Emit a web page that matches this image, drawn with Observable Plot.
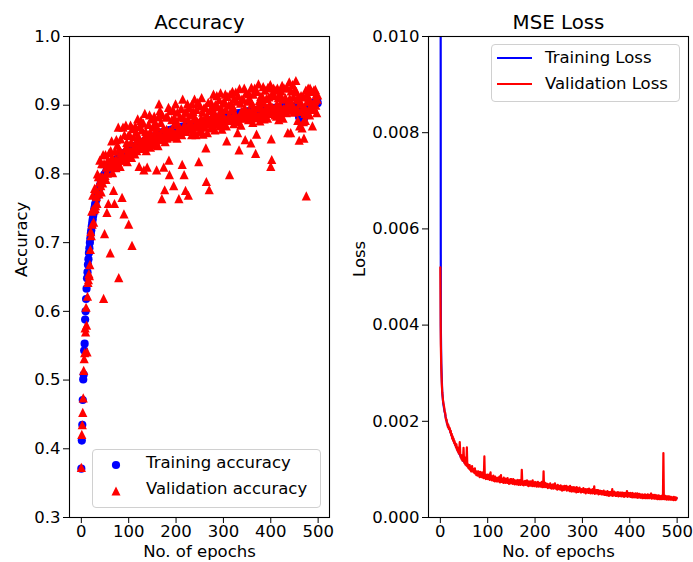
<!DOCTYPE html>
<html>
<head>
<meta charset="utf-8">
<script src="https://cdn.jsdelivr.net/npm/d3@7"></script>
<script src="https://cdn.jsdelivr.net/npm/@observablehq/plot@0.6"></script>
<style>
  html, body { margin: 0; padding: 0; background: #fff; }
  #page { position: relative; width: 693px; height: 562px; font-family: "DejaVu Sans", sans-serif; overflow: hidden; }
  .panel { position: absolute; top: 0; }
  .leg { position: absolute; box-sizing: border-box; border: 1px solid #d0d0d0; border-radius: 4px; background: rgba(255,255,255,0.8); }
  .lt { position: absolute; font-size: 16.5px; line-height: 20px; color: #000; white-space: nowrap; }
  .ls { position: absolute; }
</style>
</head>
<body>
<div id="page">
  <div id="left" class="panel" style="left:0px"></div>
  <div id="right" class="panel" style="left:340px"></div>

  <div class="leg" style="left:92px;top:449px;width:229px;height:59px"></div>
  <svg class="ls" style="left:110px;top:459px" width="12" height="12"><circle cx="6" cy="6" r="4.1" fill="blue"/></svg>
  <span class="lt" style="left:146px;top:453px">Training accuracy</span>
  <svg class="ls" style="left:110px;top:485px" width="12" height="12"><path d="M6,1.5 L10.5,10.5 L1.5,10.5 Z" fill="red"/></svg>
  <span class="lt" style="left:146px;top:479px">Validation accuracy</span>

  <div class="leg" style="left:491px;top:44px;width:189px;height:58px"></div>
  <svg class="ls" style="left:497px;top:52px" width="36" height="12"><line x1="0" y1="6" x2="35" y2="6" stroke="blue" stroke-width="2"/></svg>
  <span class="lt" style="left:545px;top:48px">Training Loss</span>
  <svg class="ls" style="left:497px;top:78px" width="36" height="12"><line x1="0" y1="6" x2="35" y2="6" stroke="red" stroke-width="2"/></svg>
  <span class="lt" style="left:545px;top:74px">Validation Loss</span>
</div>
<script>
// ---------------- data (one value per epoch 0..499) ----------------
const trainAcc = [
.371,.412,.435,.471,.501,.508,.543,.553,.588,.600,
.618,.633,.648,.657,.668,.676,.685,.692,.700,.706,
.713,.718,.724,.729,.734,.739,.743,.747,.751,.755,
.758,.762,.765,.768,.770,.773,.776,.778,.780,.782,
.784,.786,.788,.790,.791,.793,.795,.796,.797,.799,
.800,.801,.802,.804,.805,.806,.806,.807,.808,.809,
.810,.811,.812,.813,.813,.814,.815,.816,.816,.817,
.818,.818,.819,.820,.820,.821,.822,.822,.823,.823,
.824,.825,.825,.826,.826,.827,.827,.828,.828,.829,
.829,.830,.830,.831,.831,.832,.832,.833,.833,.834,
.834,.835,.835,.836,.836,.836,.837,.837,.838,.838,
.839,.839,.839,.840,.840,.841,.841,.841,.842,.842,
.843,.843,.843,.844,.844,.844,.845,.845,.846,.846,
.846,.847,.847,.847,.848,.848,.848,.849,.849,.849,
.850,.850,.850,.851,.851,.851,.852,.852,.852,.853,
.853,.853,.854,.854,.854,.855,.855,.855,.855,.856,
.856,.857,.855,.858,.857,.856,.859,.858,.857,.860,
.858,.859,.861,.860,.858,.861,.860,.862,.859,.861,
.862,.860,.861,.863,.862,.860,.863,.862,.864,.861,
.863,.864,.862,.865,.863,.864,.862,.865,.866,.864,
.865,.863,.866,.865,.867,.864,.866,.868,.865,.867,
.866,.868,.867,.865,.869,.867,.868,.866,.869,.868,
.867,.870,.868,.869,.867,.870,.869,.871,.868,.870,
.869,.871,.870,.868,.872,.870,.871,.869,.872,.871,
.870,.873,.871,.869,.872,.874,.871,.873,.872,.870,
.874,.872,.873,.875,.871,.874,.876,.873,.875,.874,
.872,.876,.875,.874,.877,.875,.873,.877,.876,.878,
.875,.877,.876,.878,.874,.879,.877,.876,.879,.878,
.877,.880,.878,.876,.880,.879,.881,.878,.880,.882,
.879,.881,.880,.883,.878,.882,.881,.880,.883,.881,
.882,.880,.884,.882,.881,.884,.883,.880,.885,.883,
.882,.885,.884,.881,.886,.884,.883,.886,.885,.882,
.886,.884,.887,.885,.883,.887,.886,.884,.888,.885,
.882,.887,.886,.888,.884,.887,.889,.886,.888,.887,
.885,.889,.887,.888,.890,.886,.889,.888,.890,.887,
.889,.891,.888,.890,.887,.891,.889,.890,.892,.888,
.890,.892,.889,.891,.893,.889,.892,.890,.893,.891,
.889,.893,.891,.892,.894,.890,.893,.892,.894,.891,
.893,.894,.891,.894,.892,.894,.893,.891,.894,.893,
.892,.895,.893,.892,.895,.893,.892,.895,.894,.892,
.894,.893,.895,.894,.892,.895,.894,.893,.896,.894,
.892,.895,.894,.896,.893,.895,.897,.894,.895,.894,
.896,.893,.897,.895,.894,.897,.896,.894,.897,.895,
.894,.897,.896,.898,.895,.897,.896,.898,.897,.895,
.898,.896,.899,.896,.897,.899,.897,.898,.895,.899,
.898,.896,.899,.897,.895,.898,.896,.893,.889,.886,
.883,.881,.880,.882,.879,.881,.880,.882,.884,.881,
.880,.883,.886,.889,.892,.894,.896,.895,.898,.897,
.899,.898,.900,.899,.901,.900,.902,.899,.901,.903,
.900,.902,.904,.901,.903,.905,.902,.904,.906,.903
];
const valAcc = [
.373,.421,.435,.453,.474,.514,.531,.540,.576,.570,
.606,.580,.541,.622,.642,.646,.655,.652,.668,.690,
.716,.710,.746,.727,.769,.749,.730,.748,.779,.750,
.754,.777,.767,.757,.800,.772,.796,.771,.788,.820,
.796,.783,.774,.815,.796,.787,.828,.619,.815,.713,
.798,.828,.792,.810,.744,.801,.820,.757,.811,.831,
.813,.685,.834,.811,.848,.824,.802,.817,.776,.812,
.757,.833,.821,.809,.850,.820,.842,.815,.868,.649,
.836,.822,.811,.851,.831,.821,.766,.828,.868,.820,
.742,.857,.820,.837,.871,.827,.846,.818,.836,.856,
.727,.827,.857,.834,.871,.846,.824,.696,.866,.833,
.835,.854,.841,.829,.870,.840,.861,.834,.850,.880,
.855,.840,.811,.869,.849,.838,.878,.845,.864,.837,
.844,.874,.806,.853,.888,.843,.862,.834,.852,.810,
.853,.842,.872,.849,.886,.861,.839,.853,.880,.848,
.849,.868,.856,.843,.884,.854,.875,.848,.863,.806,
.868,.854,.841,.883,.902,.850,.892,.858,.875,.851,
.764,.886,.851,.866,.810,.856,.777,.847,.862,.883,
.865,.852,.883,.861,.897,.820,.799,.863,.892,.856,
.859,.879,.864,.854,.893,.783,.882,.858,.874,.902,
.877,.860,.852,.890,.872,.858,.764,.868,.883,.858,
.864,.895,.857,.814,.909,.862,.882,.799,.872,.890,
.776,.862,.890,.867,.902,.880,.769,.872,.896,.865,
.865,.886,.872,.857,.902,.869,.891,.862,.880,.909,
.882,.870,.857,.894,.877,.868,.904,.873,.818,.861,
.872,.899,.863,.881,.911,.869,.890,.858,.878,.896,
.875,.868,.897,.838,.789,.885,.860,.878,.904,.873,
.777,.892,.878,.867,.904,.878,.897,.869,.887,.916,
.889,.877,.864,.901,.885,.873,.914,.878,.898,.873,
.877,.908,.870,.889,.918,.877,.895,.865,.886,.903,
.885,.872,.906,.880,.916,.894,.870,.848,.913,.878,
.878,.900,.886,.799,.916,.883,.903,.879,.893,.920,
.898,.881,.873,.910,.888,.881,.919,.884,.906,.876,
.860,.914,.876,.835,.924,.882,.903,.871,.891,.909,
.888,.881,.909,.886,.925,.896,.850,.889,.918,.882,
.885,.906,.890,.879,.917,.890,.909,.883,.845,.926,
.902,.889,.875,.916,.898,.883,.925,.890,.830,.882,
.858,.920,.882,.898,.931,.885,.907,.877,.897,.913,
.896,.887,.913,.892,.927,.904,.880,.892,.922,.889,
.888,.910,.896,.881,.926,.893,.912,.888,.902,.930,
.811,.851,.821,.917,.897,.889,.925,.894,.914,.886,
.890,.922,.884,.902,.925,.890,.911,.879,.898,.916,
.899,.885,.921,.892,.929,.909,.881,.895,.925,.892,
.890,.911,.898,.889,.926,.896,.860,.893,.903,.934,
.910,.893,.860,.921,.902,.893,.930,.898,.913,.890,
.896,.923,.891,.936,.920,.893,.910,.878,.892,.908,
.849,.870,.902,.905,.914,.891,.867,.895,.912,.876,
.852,.898,.888,.878,.922,.768,.916,.888,.906,.925,
.911,.895,.886,.925,.906,.894,.920,.899,.870,.894,
.898,.922,.894,.907,.923,.900,.916,.889,.909,.915
];
const trainLoss = [
.025,.0040,.0032,.0029,.0026,.0025,.00238,.00232,.00226,.0022,
.00216,.0021,.00205,.00201,.00197,.00193,.0019,.00188,.00186,.00184,
.00182,.00179,.00176,.00173,.0017,.00167,.00165,.00162,.0016,.00157,
.00155,.00153,.0015,.00148,.00146,.00144,.00141,.00139,.00137,.00135,
.00133,.00131,.00129,.00127,.00125,.00123,.00121,.0012,.00118,.00117,
.00116,.00115,.00114,.00112,.00111,.0011,.00109,.00108,.00107,.00106,
.00105,.00104,.00103,.00103,.00102,.00101,.001,.00099,.00099,.00098,
.00097,.00096,.00096,.00095,.00094,.00094,.00093,.00092,.00092,.00091,
.00091,.0009,.0009,.00089,.00089,.00088,.00088,.00088,.00087,.00087,
.00087,.00086,.00086,.00086,.00085,.00085,.00085,.00085,.00084,.00084,
.00084,.00084,.00083,.00083,.00083,.00083,.00082,.00082,.00082,.00082,
.00081,.00081,.00081,.0008,.0008,.0008,.0008,.0008,.00079,.00079,
.00079,.00079,.00078,.00078,.00078,.00078,.00078,.00078,.00077,.00077,
.00077,.00077,.00077,.00077,.00077,.00076,.00076,.00076,.00076,.00076,
.00076,.00076,.00076,.00076,.00075,.00075,.00075,.00075,.00075,.00075,
.00075,.00075,.00074,.00074,.00074,.00074,.00074,.00074,.00073,.00073,
.00073,.00073,.00073,.00073,.00073,.00073,.00072,.00072,.00072,.00072,
.00072,.00072,.00072,.00072,.00072,.00072,.00072,.00071,.00071,.00071,
.00071,.00071,.00071,.00071,.00071,.00071,.0007,.0007,.0007,.0007,
.0007,.0007,.0007,.0007,.0007,.00069,.00069,.00069,.00069,.00069,
.00069,.00069,.00069,.00069,.00069,.00068,.00068,.00068,.00068,.00068,
.00068,.00068,.00068,.00068,.00068,.00068,.00067,.00067,.00067,.00067,
.00067,.00067,.00067,.00067,.00066,.00066,.00066,.00066,.00066,.00066,
.00065,.00065,.00065,.00065,.00065,.00065,.00065,.00064,.00064,.00064,
.00064,.00064,.00064,.00064,.00063,.00063,.00063,.00063,.00063,.00063,
.00062,.00062,.00062,.00062,.00062,.00062,.00062,.00061,.00061,.00061,
.00061,.00061,.00061,.00061,.00061,.00061,.0006,.0006,.0006,.0006,
.0006,.0006,.0006,.00059,.00059,.00059,.00059,.00059,.00059,.00058,
.00058,.00058,.00058,.00058,.00058,.00058,.00058,.00057,.00057,.00057,
.00057,.00057,.00057,.00057,.00057,.00057,.00056,.00056,.00056,.00056,
.00056,.00056,.00056,.00056,.00056,.00055,.00055,.00055,.00055,.00055,
.00055,.00055,.00055,.00055,.00055,.00054,.00054,.00054,.00054,.00054,
.00054,.00054,.00054,.00054,.00054,.00053,.00053,.00053,.00053,.00053,
.00053,.00053,.00053,.00052,.00052,.00052,.00052,.00052,.00052,.00052,
.00052,.00051,.00051,.00051,.00051,.00051,.00051,.0005,.0005,.0005,
.0005,.0005,.0005,.0005,.0005,.0005,.00049,.00049,.00049,.00049,
.00049,.00049,.00049,.00049,.00049,.00049,.00049,.00049,.00049,.00049,
.00049,.00049,.00048,.00048,.00048,.00048,.00048,.00048,.00048,.00048,
.00048,.00048,.00048,.00048,.00048,.00047,.00047,.00047,.00047,.00047,
.00047,.00047,.00047,.00047,.00047,.00047,.00047,.00047,.00047,.00047,
.00047,.00047,.00047,.00046,.00046,.00046,.00046,.00046,.00046,.00046,
.00046,.00046,.00046,.00046,.00046,.00045,.00045,.00045,.00045,.00045,
.00045,.00045,.00045,.00045,.00045,.00045,.00044,.00044,.00044,.00044,
.00044,.00044,.00044,.00044,.00044,.00044,.00044,.00044,.00044,.00044,
.00044,.00044,.00044,.00044,.00044,.00043,.00043,.00043,.00043,.00043,
.00043,.00043,.00043,.00043,.00043,.00043,.00042,.00042,.00042,.00042,
.00042,.00042,.00042,.00042,.00042,.00042,.00042,.00042,.00042,.00042,
.00042,.00042,.00042,.00042,.00042,.00042,.00041,.00041,.00041,.00041,
.00041,.00041,.00041,.00041,.00041,.00041,.00041,.0004,.0004,.0004,
.0004,.0004,.0004,.0004,.0004,.0004,.0004,.0004,.0004,.0004
];
const valLoss = [
.0052,.0036,.0031,.0028,.0026,.0025,.0024,.00235,.0023,.0022,
.00219,.0021,.00203,.00204,.00195,.00196,.00188,.00192,.00184,.00187,
.00185,.00177,.0018,.00171,.00174,.00164,.00169,.0016,.00164,.00155,
.00159,.00151,.00154,.00146,.00152,.00141,.00146,.00137,.00141,.00133,
.00138,.00157,.00133,.00125,.0013,.00121,.00126,.00118,.00123,.00145,
.0012,.00113,.00118,.0011,.00125,.00108,.00146,.00106,.00111,.00103,
.00109,.00101,.00109,.00099,.00104,.00096,.00103,.00107,.00096,.00099,
.00095,.00101,.00092,.00102,.00091,.00096,.00088,.00096,.00093,.00087,
.00096,.00087,.00092,.00084,.00095,.00086,.00091,.00084,.00094,.00084,
.00089,.00082,.00091,.00127,.00082,.00089,.0008,.00088,.00082,.00089,
.0008,.00087,.00081,.00089,.00078,.00085,.00094,.00079,.00086,.00077,
.00085,.00078,.00087,.00076,.00082,.00075,.00085,.00078,.00082,.00075,
.00082,.00075,.00083,.00075,.0008,.00085,.00073,.00082,.00088,.00074,
.00081,.00074,.00079,.00072,.00083,.00074,.00079,.00072,.00081,.00073,
.00078,.00072,.00082,.00073,.00079,.0007,.00078,.00073,.0008,.00071,
.0008,.00072,.00076,.0007,.0008,.00072,.00078,.00069,.00076,.0007,
.00077,.00069,.00076,.00071,.00078,.00068,.00074,.00069,.00078,.00068,
.00075,.00069,.00099,.00074,.00068,.00074,.00067,.00075,.00069,.00076,
.00068,.00075,.00069,.00077,.00067,.00074,.00065,.00075,.00068,.00074,
.00066,.00075,.00067,.00073,.00065,.00077,.00067,.00073,.00065,.00072,
.00074,.00066,.00071,.00064,.00073,.00066,.00074,.00064,.00071,.00065,
.00072,.00064,.00071,.00066,.00074,.00063,.00069,.00064,.00096,.00063,
.0007,.00064,.00072,.00063,.00068,.00064,.0007,.00061,.00069,.00063,
.00069,.00062,.00071,.00061,.00067,.0006,.00068,.00062,.00069,.0006,
.00067,.00061,.00071,.00062,.00067,.00059,.00065,.00058,.00068,.0006,
.00066,.00059,.00064,.00058,.00067,.0006,.00065,.00056,.00065,.00058,
.00064,.00057,.00066,.00059,.00065,.00058,.00066,.00056,.00062,.00057,
.00064,.00057,.00062,.00055,.00066,.00057,.00062,.00054,.00063,.00055,
.00061,.00055,.00063,.00054,.0006,.00056,.00062,.00052,.00063,.00054,
.00061,.00053,.0006,.00055,.00062,.00054,.00058,.00052,.00059,.00053,
.00059,.00053,.00061,.00052,.00058,.00053,.00059,.0005,.00058,.00052,
.00059,.00052,.00057,.00051,.0006,.00052,.00057,.0005,.00058,.00051,
.00057,.0005,.00059,.00051,.00056,.00065,.00049,.00056,.0005,.00057,
.0005,.00057,.00051,.00057,.00048,.00055,.00049,.00056,.0005,.00055,
.00048,.00055,.00048,.00054,.00049,.00056,.00047,.00053,.00047,.00054,
.00047,.00053,.00046,.00055,.00048,.00053,.00045,.00053,.00046,.00051,
.00053,.00046,.00051,.00059,.00045,.00052,.00046,.00054,.00047,.00052,
.00045,.00052,.00045,.00052,.00046,.00053,.00044,.00051,.00045,.00052,
.00045,.00052,.00044,.00051,.00046,.00052,.00044,.0005,.00043,.00051,
.00044,.0005,.00045,.00051,.00055,.00043,.0005,.00044,.00051,.00045,
.0005,.00043,.00051,.00043,.00048,.00042,.00051,.00043,.00049,.00042,
.00049,.00043,.0005,.00042,.00048,.00042,.0005,.00041,.00048,.00042,
.00049,.00042,.00048,.00041,.00047,.00042,.00048,.0004,.00047,.00041,
.00047,.00041,.00048,.0004,.00047,.00041,.00046,.0004,.00048,.00041,
.00047,.0004,.00046,.00041,.00048,.0005,.00039,.00046,.0004,.00047,
.0004,.00046,.00039,.00047,.00041,.00046,.00039,.00046,.00038,.00045,
.00039,.00046,.00038,.00045,.00039,.00044,.00038,.00045,.00039,.00046,
.00038,.00134,.00039,.00045,.00038,.00045,.00038,.00044,.00037,.00044,
.00038,.00044,.00037,.00044,.00039,.00043,.00037,.00043,.00037,.00042,
.00037,.00042,.00036,.00043,.00037,.00042,.00036,.00042,.00037,.00041
];
const xTicks = [0, 100, 200, 300, 400, 500];
const accTicks = [0.3, 0.4, 0.5, 0.6, 0.7, 0.8, 0.9, 1.0];
const lossTicks = [0, 0.002, 0.004, 0.006, 0.008, 0.010];

// ---------------- drawing ----------------
const FONT = "DejaVu Sans";
const FS = 16.5;
const epochOf = (d, i) => i;

// matplotlib-style "^" marker
const triangle = {
  draw(ctx, size) {
    const h = Math.sqrt(size / Math.PI);
    ctx.moveTo(0, -h);
    ctx.lineTo(h, h);
    ctx.lineTo(-h, h);
    ctx.closePath();
  }
};

const common = {
  height: 562,
  marginTop: 36,
  marginBottom: 45,
  style: { fontFamily: FONT, fontSize: FS + "px", background: "transparent", overflow: "visible", color: "#000" }
};

const left = Plot.plot({
  ...common,
  width: 340,
  marginLeft: 69,
  marginRight: 11,
  x: { domain: [-25, 524] },
  y: { domain: [0.3, 1.0] },
  marks: [
    Plot.dot(trainAcc, { x: epochOf, y: d => d, r: 4.1, fill: "blue" }),
    Plot.dot(valAcc, { x: epochOf, y: d => d, r: 4.6, symbol: triangle, fill: "red" }),
    Plot.frame({ stroke: "#000", strokeWidth: 1.1 }),
    Plot.axisX({ ticks: xTicks, tickSize: 6, tickPadding: 2, tickFormat: d3.format("d"), label: null, fontSize: FS }),
    Plot.axisY({ ticks: accTicks, tickSize: 6, tickPadding: 3, tickFormat: d3.format(".1f"), label: null, fontSize: FS }),
    Plot.text(["Accuracy"], { frameAnchor: "top", dy: -14, lineAnchor: "middle", fontSize: 19.8 }),
    Plot.text(["No. of epochs"], { frameAnchor: "bottom", dy: 34, lineAnchor: "middle", fontSize: FS }),
    Plot.text(["Accuracy"], { frameAnchor: "left", dx: -48, rotate: -90, lineAnchor: "middle", fontSize: FS })
  ]
});

const right = Plot.plot({
  ...common,
  width: 353,
  marginLeft: 88,
  marginRight: 5,
  x: { domain: [-25, 524] },
  y: { domain: [0, 0.010] },
  marks: [
    Plot.line(trainLoss, { x: epochOf, y: d => d, stroke: "blue", strokeWidth: 2.2, clip: true }),
    Plot.line(valLoss, { x: epochOf, y: d => d, stroke: "red", strokeWidth: 2.2, clip: true }),
    Plot.frame({ stroke: "#000", strokeWidth: 1.1 }),
    Plot.axisX({ ticks: xTicks, tickSize: 6, tickPadding: 2, tickFormat: d3.format("d"), label: null, fontSize: FS }),
    Plot.axisY({ ticks: lossTicks, tickSize: 6, tickPadding: 3, tickFormat: d3.format(".3f"), label: null, fontSize: FS }),
    Plot.text(["MSE Loss"], { frameAnchor: "top", dy: -14, lineAnchor: "middle", fontSize: 19.8 }),
    Plot.text(["No. of epochs"], { frameAnchor: "bottom", dy: 34, lineAnchor: "middle", fontSize: FS }),
    Plot.text(["Loss"], { frameAnchor: "left", dx: -69, rotate: -90, lineAnchor: "middle", fontSize: FS })
  ]
});

document.getElementById("left").appendChild(left);
document.getElementById("right").appendChild(right);
</script>
</body>
</html>
